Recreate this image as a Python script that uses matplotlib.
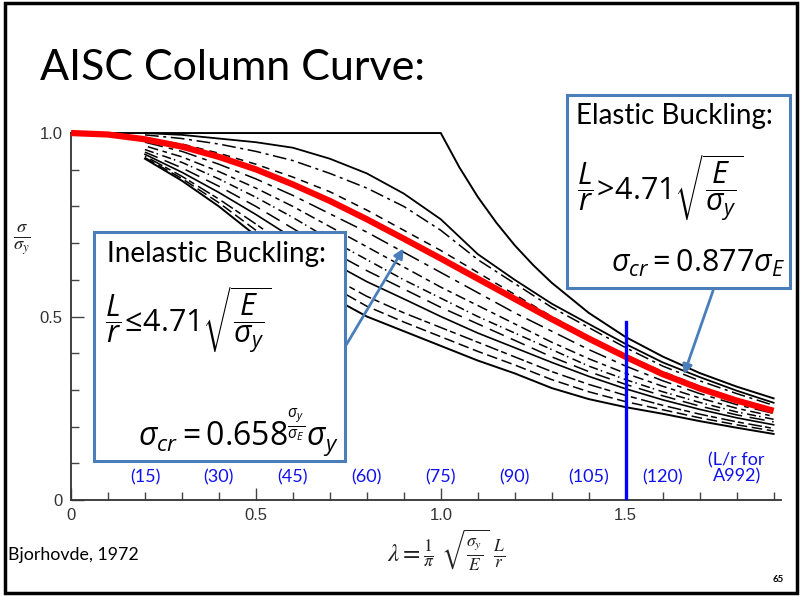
import matplotlib
matplotlib.use('Agg')
import matplotlib.pyplot as plt
from matplotlib.patches import Rectangle, FancyArrowPatch

plt.rcParams['mathtext.fontset'] = 'custom'
plt.rcParams['mathtext.rm'] = 'Open Sans'
plt.rcParams['mathtext.it'] = 'Open Sans:italic'
plt.rcParams['mathtext.bf'] = 'Open Sans:bold'

W, H = 803, 597

# ---------------- data ----------------
# AISC column curve (red)
aisc_lam = [0.0, 0.1, 0.2, 0.3, 0.4, 0.5, 0.6, 0.7, 0.8, 0.9, 1.0,
            1.1, 1.2, 1.3, 1.4, 1.5, 1.6, 1.7, 1.8, 1.9]
aisc_val = [1.0, 0.996, 0.983, 0.963, 0.935, 0.901, 0.860, 0.815, 0.765, 0.712, 0.658,
            0.603, 0.548, 0.493, 0.440, 0.390, 0.343, 0.304, 0.271, 0.243]

# Upper envelope (yield plateau + Euler)
euler_lam = [0.0, 0.2, 0.4, 0.6, 0.8, 1.0, 1.05, 1.1, 1.15, 1.2, 1.25, 1.3, 1.4, 1.5, 1.6, 1.7, 1.8, 1.9]
euler_val = [1.0, 1.0, 1.0, 1.0, 1.0, 1.0, 0.907, 0.826, 0.756, 0.694, 0.640, 0.592, 0.510, 0.444,
             0.391, 0.346, 0.309, 0.277]

# Band of test curves (Bjorhovde, 1972)
band_lam = [0.2, 0.3, 0.4, 0.5, 0.6, 0.7, 0.8, 0.9, 1.0, 1.1, 1.2, 1.3, 1.4, 1.5, 1.6, 1.7, 1.8, 1.9]
band_upper = [1.0, 0.995, 0.985, 0.975, 0.96, 0.93, 0.89, 0.835, 0.765, 0.67, 0.60, 0.535, 0.48, 0.425, 0.375, 0.335, 0.298, 0.265]
band_lower = [0.93, 0.87, 0.80, 0.72, 0.64, 0.555, 0.50, 0.46, 0.42, 0.38, 0.345, 0.305, 0.275, 0.253, 0.235, 0.215, 0.197, 0.18]
band_mid = [0.942, 0.893, 0.838, 0.778, 0.714, 0.65, 0.595, 0.548, 0.50, 0.455, 0.415, 0.375, 0.337, 0.303, 0.273, 0.247, 0.224, 0.205]
test_1 = [0.995, 0.985, 0.97, 0.95, 0.925, 0.89, 0.85, 0.80, 0.735, 0.655, 0.59, 0.525, 0.47, 0.415, 0.365, 0.325, 0.29, 0.258]
test_2 = [0.985, 0.97, 0.945, 0.915, 0.88, 0.84, 0.79, 0.735, 0.68, 0.62, 0.56, 0.50, 0.445, 0.395, 0.35, 0.31, 0.276, 0.248]
test_3 = [0.975, 0.95, 0.915, 0.875, 0.83, 0.78, 0.73, 0.675, 0.62, 0.565, 0.51, 0.46, 0.41, 0.365, 0.325, 0.29, 0.26, 0.236]
test_4 = [0.965, 0.935, 0.895, 0.85, 0.80, 0.745, 0.69, 0.635, 0.58, 0.53, 0.48, 0.43, 0.385, 0.345, 0.31, 0.278, 0.25, 0.228]
test_5 = [0.955, 0.92, 0.875, 0.825, 0.77, 0.71, 0.655, 0.60, 0.55, 0.50, 0.455, 0.41, 0.365, 0.328, 0.295, 0.266, 0.24, 0.22]
test_6 = [0.948, 0.905, 0.855, 0.80, 0.74, 0.68, 0.625, 0.575, 0.525, 0.48, 0.435, 0.39, 0.35, 0.315, 0.284, 0.256, 0.232, 0.213]
test_7 = [0.937, 0.882, 0.82, 0.752, 0.68, 0.61, 0.555, 0.51, 0.47, 0.43, 0.39, 0.35, 0.315, 0.285, 0.258, 0.234, 0.213, 0.195]
test_8 = [0.933, 0.876, 0.81, 0.735, 0.66, 0.585, 0.528, 0.485, 0.445, 0.405, 0.368, 0.328, 0.295, 0.268, 0.246, 0.224, 0.205, 0.188]

# Slenderness-ratio labels (L/r for A992) along the x axis
lr_pos = [0.2, 0.4, 0.6, 0.8, 1.0, 1.2, 1.4, 1.6]
lr_text = ['(15)', '(30)', '(45)', '(60)', '(75)', '(90)', '(105)', '(120)']

x_major = [0, 0.5, 1.0, 1.5]
x_major_lbl = ['0', '0.5', '1.0', '1.5']
y_major = [0, 0.5, 1.0]
y_major_lbl = ['0', '0.5', '1.0']
lam_limit = 1.5
limit_top = 0.485

# ---------------- figure ----------------
fig = plt.figure(figsize=(W / 100, H / 100), dpi=100)
fig.patch.set_facecolor('white')


def fx(px):
    return px / W


def fy(py):
    return 1 - py / H


ax_l, ax_r, ax_b, ax_t = 71, 781, 500, 125.7
ax = fig.add_axes([fx(ax_l), fy(ax_b), (ax_r - ax_l) / W, (ax_b - ax_t) / H])
ax.set_xlim(0, 1.92)
ax.set_ylim(0, 1.02)
ax.patch.set_alpha(0)
for s in ['top', 'right']:
    ax.spines[s].set_visible(False)
ax.spines['left'].set_bounds(0, 1.0)
ax.spines['bottom'].set_bounds(0, 1.92)
for s in ['left', 'bottom']:
    ax.spines[s].set_color('#333333')
    ax.spines[s].set_linewidth(1.3)

ax.set_xticks(x_major)
ax.set_xticklabels(x_major_lbl)
ax.set_yticks(y_major)
ax.set_yticklabels(y_major_lbl)
ax.set_xticks([i / 10 for i in range(1, 20) if i % 5 != 0], minor=True)
ax.set_yticks([i / 10 for i in range(1, 10) if i % 5 != 0], minor=True)
ax.tick_params(which='major', direction='in', length=9, width=1.0, color='#444444',
               labelsize=12, labelcolor='#333333', pad=6)
ax.tick_params(which='minor', direction='in', length=6, width=1.0, color='#444444')
for lbl in ax.get_xticklabels() + ax.get_yticklabels():
    lbl.set_family('Liberation Sans')

# band curves
dash_styles = [(0, (9, 3, 2, 3)), (2, (5, 4)), (0, (12, 4, 3, 4)), (4, (3, 3, 7, 3)),
               (0, (6, 2, 1, 3)), (1, (10, 5)), (3, (4, 3, 9, 2)), (0, (7, 3))]
tests = [test_1, test_2, test_3, test_4, test_5, test_6, test_7, test_8]
for vals, ds in zip(tests, dash_styles):
    ax.plot(band_lam, vals, color='black', lw=1.1, linestyle=ds, zorder=2)
ax.plot(band_lam, band_upper, color='black', lw=1.3, zorder=2)
ax.plot(band_lam, band_lower, color='black', lw=1.4, zorder=2)
ax.plot(band_lam, band_mid, color='black', lw=1.2, zorder=2)
ax.plot(euler_lam, euler_val, color='black', lw=1.4, zorder=2, clip_on=False)

# AISC curve
ax.plot(aisc_lam, aisc_val, color='#ff0000', lw=4.5, solid_capstyle='butt', zorder=4, clip_on=False)

# limit line
ax.plot([lam_limit, lam_limit], [0, limit_top], color='#0000ff', lw=2.4, zorder=5)

# L/r labels
for p, t in zip(lr_pos, lr_text):
    ax.text(p, 0.062, t, color='#1010ee', fontsize=13, family='Lato',
            ha='center', va='center', zorder=6)
ax.text(1.80, 0.085, '(L/r for\nA992)', color='#1010ee', fontsize=13, family='Lato',
        ha='center', va='center', linespacing=1.0, zorder=6)

# ---------------- slide furniture ----------------
fig.add_artist(Rectangle((fx(5), fy(593)), fx(797) - fx(5), fy(3) - fy(593),
                         transform=fig.transFigure, fill=False, ec='black', lw=2.5))
fig.text(fx(40), fy(80), 'AISC Column Curve:', fontsize=31, family='Lato',
         ha='left', va='baseline', color='black')
fig.text(fx(8), fy(560), 'Bjorhovde, 1972', fontsize=12.8, family='Lato',
         ha='left', va='baseline', color='black')
fig.text(fx(778), fy(580), '65', fontsize=7, family='Lato', fontweight='bold',
         ha='center', va='center', color='black')
fig.text(fx(446), fy(550), r'$\lambda = \frac{1}{\pi}\ \sqrt{\frac{\sigma_y}{E}}\ \frac{L}{r}$',
         fontsize=18, math_fontfamily='stix', ha='center', va='center', color='#222222')
fig.text(fx(22), fy(240), r'$\frac{\sigma}{\sigma_y}$', fontsize=19, math_fontfamily='stix',
         ha='center', va='center', color='#222222')

box_col = '#4a7ebb'
# Inelastic box
fig.add_artist(Rectangle((fx(94), fy(461)), fx(345) - fx(94), fy(232) - fy(461),
                         transform=fig.transFigure, fc='white', ec=box_col, lw=2.2, zorder=10))
fig.text(fx(107), fy(262), 'Inelastic Buckling:', fontsize=20, family='Lato',
         ha='left', va='baseline', zorder=11)
fig.text(fx(105), fy(320), r'$\dfrac{L}{r}\!\leq\!4.71\sqrt{\dfrac{E}{\sigma_y}}$', fontsize=22,
         ha='left', va='center', zorder=11)
fig.text(fx(339), fy(445), r'$\sigma_{cr}=0.658^{\frac{\sigma_y}{\sigma_E}}\sigma_y$', fontsize=23,
         ha='right', va='baseline', zorder=11)

# Elastic box
fig.add_artist(Rectangle((fx(567), fy(288)), fx(790) - fx(567), fy(95) - fy(288),
                         transform=fig.transFigure, fc='white', ec=box_col, lw=2.2, zorder=10))
fig.text(fx(576), fy(124), 'Elastic Buckling:', fontsize=20, family='Lato',
         ha='left', va='baseline', zorder=11)
fig.text(fx(577), fy(188), r'$\dfrac{L}{r}\!>\!4.71\sqrt{\dfrac{E}{\sigma_y}}$', fontsize=22,
         ha='left', va='center', zorder=11)
fig.text(fx(785), fy(272), r'$\sigma_{cr}=0.877\sigma_E$', fontsize=22,
         ha='right', va='baseline', zorder=11)

# arrows
for (x0, y0), (x1, y1) in [((345, 347), (405, 246)), ((714, 288), (683, 377))]:
    fig.add_artist(FancyArrowPatch((fx(x0), fy(y0)), (fx(x1), fy(y1)),
                                   transform=fig.transFigure, arrowstyle='-|>',
                                   mutation_scale=14, color=box_col, lw=2.0, zorder=12))

fig.savefig('out.png', dpi=100, facecolor='white')
